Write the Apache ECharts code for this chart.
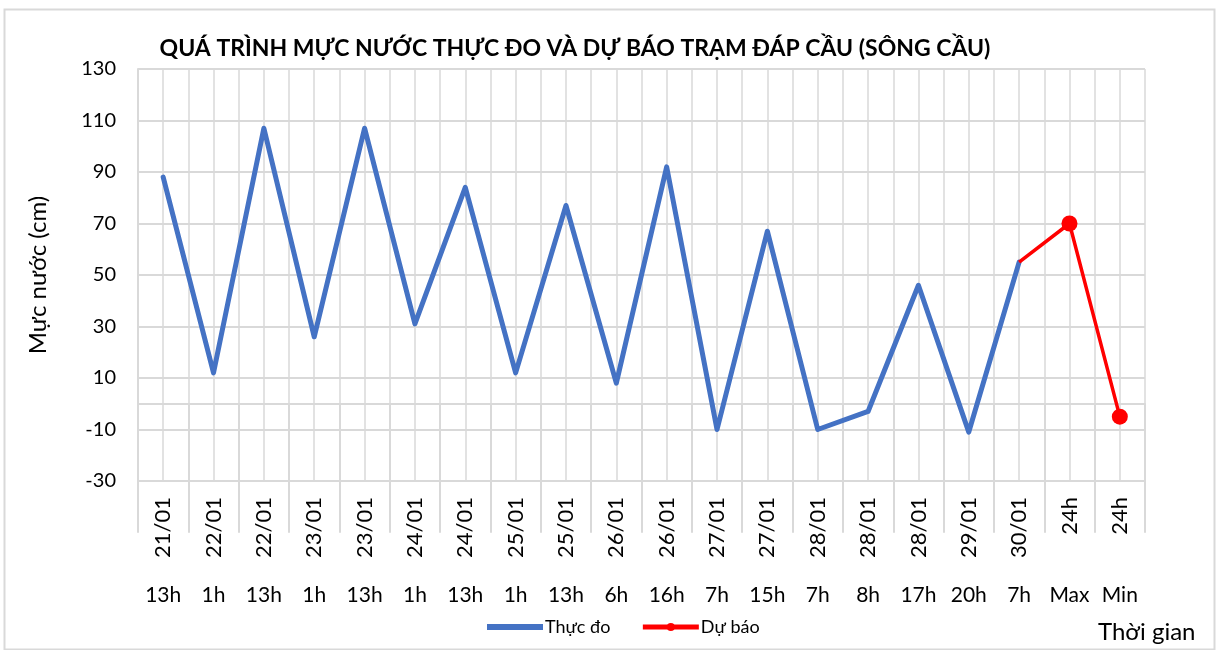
<!DOCTYPE html>
<html lang="vi">
<head>
    <meta charset="UTF-8">
    <title>Mực nước Đáp Cầu</title>
    <script src="https://cdn.jsdelivr.net/npm/echarts@6/dist/echarts.min.js"></script>
    <style>
        html, body { margin: 0; padding: 0; background: #fff; }
        #chart { width: 1219px; height: 650px; }
    </style>
</head>
<body>
<div id="chart"></div>

<script>
    // nhãn trục hoành: ngày (xoay dọc) + giờ
    var dates = ['21/01', '22/01', '22/01', '23/01', '23/01', '24/01', '24/01', '25/01', '25/01', '26/01',
        '26/01', '27/01', '27/01', '28/01', '28/01', '28/01', '29/01', '30/01', '24h', '24h'];
    var hours = ['13h', '1h', '13h', '1h', '13h', '1h', '13h', '1h', '13h', '6h',
        '16h', '7h', '15h', '7h', '8h', '17h', '20h', '7h', 'Max', 'Min'];

    // mực nước thực đo (cm)
    var thucDo = [88, 12, 107, 26, 107, 31, 84, 12, 77, 8,
        92, -10, 67, -10, -3, 46, -11, 55, null, null];
    // dự báo, nối từ điểm đo cuối
    var duBao = [null, null, null, null, null, null, null, null, null, null,
        null, null, null, null, null, null, null, 55, 70, -5];

    var yTicks = [-30, -10, 10, 30, 50, 70, 90, 110, 130];

    var categories = dates.map(function (d, i) { return d + ' ' + hours[i]; });
    // nửa ô để kẻ lưới dọc ở giữa và biên mỗi ô
    var halfCells = [];
    for (var i = 0; i < categories.length * 2; i++) halfCells.push('' + i);

    var font = 'Lato, "Noto Sans", sans-serif';
    var gridColor = '#d9d9d9';

    var myChart = echarts.init(document.getElementById('chart'));

    var forecastData = duBao.map(function (v, i) {
        if (v !== null && thucDo[i] !== null) {
            return {value: v, symbol: 'none'};
        }
        return v;
    });

    option = {
        backgroundColor: '#fff',
        animation: false,
        textStyle: {fontFamily: font, color: '#000'},
        title: [{
            text: 'QUÁ TRÌNH MỰC NƯỚC THỰC ĐO VÀ DỰ BÁO TRẠM ĐÁP CẦU (SÔNG CẦU)',
            left: 570,
            textAlign: 'center',
            top: 32,
            textStyle: {fontFamily: font, fontSize: 23, fontWeight: 'bold', color: '#000'}
        }, {
            text: 'Thời gian',
            left: 1093,
            top: 615,
            textStyle: {fontFamily: font, fontSize: 24, fontWeight: 'normal', color: '#000'}
        }],
        graphic: [{
            type: 'rect',
            shape: {x: 4.5, y: 9.5, width: 1210, height: 640},
            style: {fill: 'none', stroke: gridColor, lineWidth: 2},
            silent: true
        }],
        legend: {
            left: 482,
            top: 613,
            itemWidth: 56,
            itemHeight: 10,
            itemGap: 30,
            textStyle: {fontFamily: font, fontSize: 18, color: '#000', padding: [0, 0, 0, -3]},
            data: [
                {name: 'Thực đo', icon: 'path://M0,0L56,0L56,6L0,6Z'},
                {name: 'Dự báo', lineStyle: {width: 5}}
            ]
        },
        grid: {
            left: 138,
            right: 74,
            top: 69,
            bottom: 169,
            containLabel: false
        },
        xAxis: [{
            type: 'category',
            position: 'bottom',
            data: categories,
            boundaryGap: true,
            axisLine: {show: true, lineStyle: {color: gridColor, width: 2}},
            axisTick: {show: true, interval: 0, length: 129, lineStyle: {color: gridColor, width: 2}},
            axisLabel: {
                interval: 0,
                rotate: 90,
                margin: 16,
                fontFamily: font,
                fontSize: 22,
                color: '#000',
                formatter: function (v, idx) { return dates[idx]; }
            },
            splitLine: {show: false}
        }, {
            type: 'category',
            position: 'bottom',
            data: categories,
            boundaryGap: true,
            axisLine: {show: false},
            axisTick: {show: false},
            axisLabel: {
                interval: 0,
                margin: 104,
                fontFamily: font,
                fontSize: 21,
                color: '#000',
                formatter: function (v, idx) { return hours[idx]; }
            },
            splitLine: {show: false}
        }, {
            type: 'category',
            position: 'top',
            data: halfCells,
            boundaryGap: true,
            axisLine: {show: false},
            axisTick: {show: false},
            axisLabel: {show: false},
            splitLine: {show: true, interval: 0, lineStyle: {color: gridColor, width: 1.5}}
        }],
        yAxis: {
            type: 'value',
            min: yTicks[0],
            max: yTicks[yTicks.length - 1],
            interval: yTicks[1] - yTicks[0],
            name: 'Mực nước (cm)',
            nameLocation: 'middle',
            nameGap: 88,
            nameTextStyle: {fontFamily: font, fontSize: 24, color: '#000'},
            axisLine: {show: true, lineStyle: {color: gridColor, width: 2}},
            axisTick: {show: false},
            axisLabel: {margin: 22, fontFamily: font, fontSize: 20, color: '#000'},
            splitLine: {show: true, lineStyle: {color: gridColor, width: 2}}
        },
        series: [{
            name: 'Thực đo',
            type: 'line',
            xAxisIndex: 0,
            data: thucDo,
            symbol: 'none',
            color: '#4472c4',
            lineStyle: {width: 5, color: '#4472c4', cap: 'round', join: 'round'},
            z: 3
        }, {
            name: 'Dự báo',
            type: 'line',
            xAxisIndex: 0,
            data: forecastData,
            symbol: 'circle',
            symbolSize: 16,
            color: '#ff0000',
            itemStyle: {color: '#ff0000'},
            lineStyle: {width: 3.5, color: '#ff0000'},
            z: 4
        }]
    };

    myChart.setOption(option);
</script>
</body>
</html>
